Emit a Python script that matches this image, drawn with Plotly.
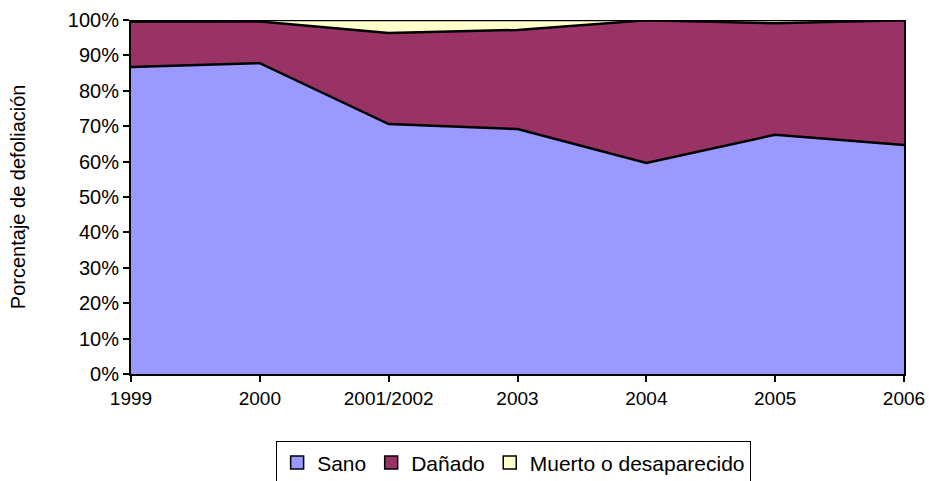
import plotly.graph_objects as go

years = ["1999", "2000", "2001/2002", "2003", "2004", "2005", "2006"]
sano = [86.7, 87.8, 70.6, 69.2, 59.6, 67.6, 64.7]
danado = [12.8, 11.8, 25.7, 28.0, 40.3, 31.5, 35.2]
muerto = [0.5, 0.4, 3.7, 2.8, 0.1, 0.9, 0.1]
names = ["Sano", "Dañado", "Muerto o desaparecido"]
colors = ["#9999FF", "#993366", "#FFFFCC"]
yticks = [0, 10, 20, 30, 40, 50, 60, 70, 80, 90, 100]

xs = list(range(len(years)))
fig = go.Figure()
for vals, name, col in zip([sano, danado, muerto], names, colors):
    fig.add_trace(go.Scatter(x=xs, y=vals, name=name, stackgroup="one", mode="lines",
                             line=dict(color="black", width=2.5), fillcolor=col,
                             showlegend=False, hoverinfo="skip"))
for name, col in zip(names, colors):
    fig.add_trace(go.Scatter(x=[None], y=[None], name=name, mode="markers",
                             marker=dict(symbol="square", size=13, color=col,
                                         line=dict(color="black", width=1.5))))

font = "Liberation Sans, Arial, sans-serif"
fig.update_layout(
    width=929, height=481,
    margin=dict(l=131, r=25, t=20, b=107, autoexpand=False),
    paper_bgcolor="white", plot_bgcolor="white",
    font=dict(family=font, size=19, color="black"),
    showlegend=True,
    legend=dict(orientation="h", x=0.495, xanchor="center", y=-0.19, yanchor="top",
                bordercolor="black", borderwidth=1, font=dict(size=21),
                itemwidth=30, tracegroupgap=0, traceorder="normal"),
    xaxis=dict(range=[0, 6], tickvals=xs, ticktext=years, showgrid=False,
               showline=True, linecolor="black", linewidth=2, ticks="outside",
               ticklen=6, tickwidth=2, tickcolor="black", zeroline=False,
               automargin=False, tickfont=dict(size=19)),
    yaxis=dict(range=[0, 100], tickvals=yticks, ticktext=[f"{v}%" for v in yticks],
               showgrid=False, showline=True, linecolor="black", linewidth=2,
               ticks="outside", ticklen=6, tickwidth=2, tickcolor="black",
               mirror=True, zeroline=False, automargin=False, tickfont=dict(size=20)),
    annotations=[dict(text="Porcentaje de defoliación", textangle=-90, xref="paper",
                      yref="paper", x=-0.146, y=0.5, xanchor="center", yanchor="middle",
                      showarrow=False, font=dict(size=20))],
)
fig.write_html("out.html", config={"displayModeBar": False},
               post_script="document.body.style.margin='0';")
